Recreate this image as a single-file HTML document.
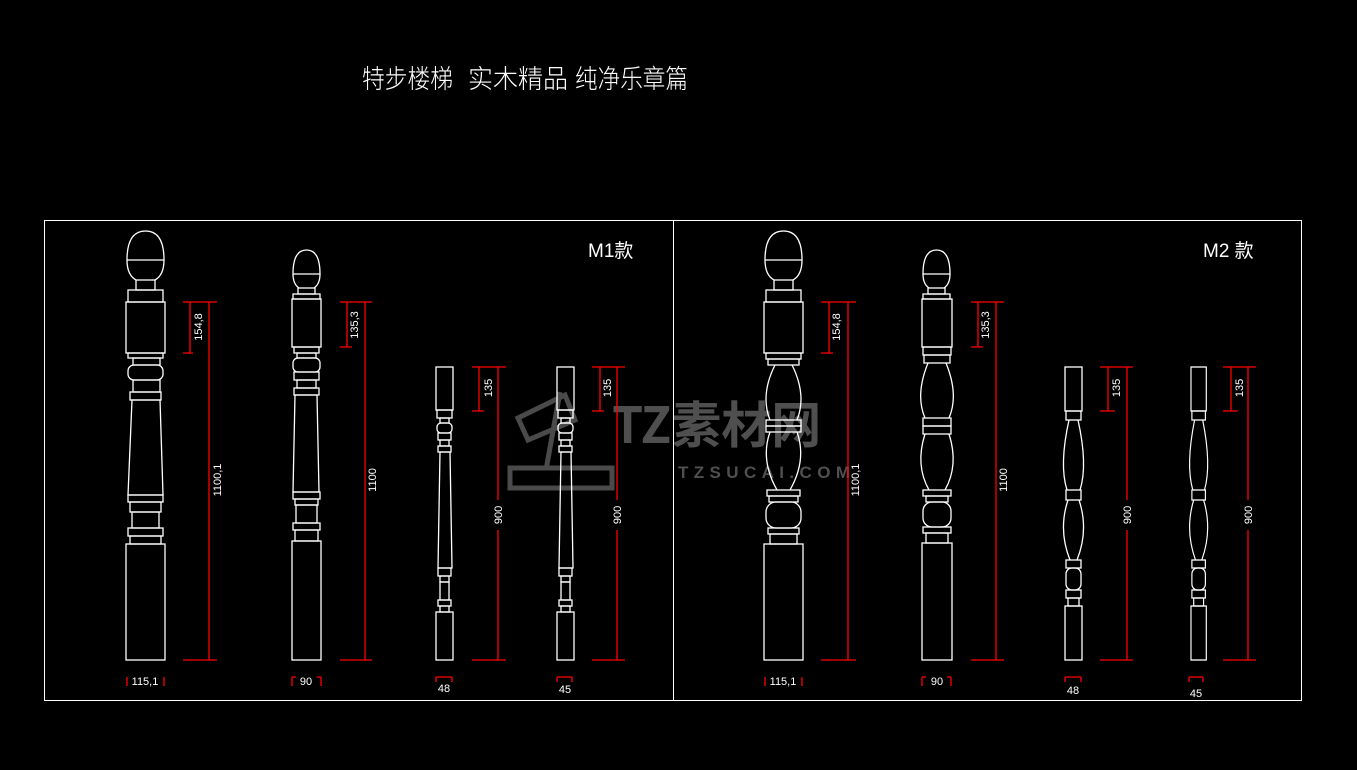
<!DOCTYPE html>
<html><head><meta charset="utf-8"><style>
html,body{margin:0;padding:0;background:#000;width:1357px;height:770px;overflow:hidden}
svg{display:block}
.p{fill:none;stroke:#fff;stroke-width:1.3}
.r{fill:none;stroke:#f00;stroke-width:1.3}
.t{fill:#fff;font-family:"Liberation Sans","Noto Sans CJK SC",sans-serif;font-size:11px}
.ti{fill:#fff;font-family:'Noto Sans CJK SC',sans-serif;font-size:26px;font-weight:300}
</style></head><body>
<svg width="1357" height="770" viewBox="0 0 1357 770">
<rect x="0" y="0" width="1357" height="770" fill="#000"/>
<text class="ti" x="362" y="88" textLength="91" lengthAdjust="spacingAndGlyphs">特步楼梯</text>
<text class="ti" x="468" y="88" textLength="100" lengthAdjust="spacingAndGlyphs">实木精品</text>
<text class="ti" x="575" y="88" textLength="113" lengthAdjust="spacingAndGlyphs">纯净乐章篇</text>

<!-- watermark -->
<g fill="none" stroke="#4a4a4a" stroke-width="5">
<path d="M518,418 L565,395 L575,420 L528,440 Z"/>
<path d="M560,392 L546,470"/>
<path d="M510,468 L612,468 L612,488 L510,488 Z"/>
</g>
<text x="612" y="443" style="fill:#4f4f4f;font-family:'Noto Sans CJK SC',sans-serif;font-size:50px;font-weight:bold">TZ素材网</text>
<text x="678" y="478" textLength="172" lengthAdjust="spacing" style="fill:#4f4f4f;font-family:'Liberation Sans',sans-serif;font-size:17px;font-weight:bold">TZSUCAI.COM</text>

<!-- frame -->
<rect x="44.5" y="220.5" width="1257" height="480" fill="none" stroke="#fff" stroke-width="1"/>
<line x1="673.5" y1="220" x2="673.5" y2="701" stroke="#fff" stroke-width="1"/>
<text x="588" y="257" style="fill:#fff;font-family:'Liberation Sans','Noto Sans CJK SC',sans-serif;font-size:19px">M1款</text>
<text x="1203" y="257" style="fill:#fff;font-family:'Liberation Sans','Noto Sans CJK SC',sans-serif;font-size:19px">M2 款</text>

<!-- M1 post 1 -->
<g class="p">
<path d="M127,260 Q127,231 145.5,231 Q164,231 164,260 Z"/>
<path d="M127,260 Q127,275 136,280 M164,260 Q164,275 155,280"/>
<rect x="136" y="280" width="19" height="10"/>
<rect x="128" y="290" width="35" height="12"/>
<rect x="126" y="302" width="39" height="51"/>
<rect x="128" y="353" width="35" height="5"/>
<rect x="133" y="358" width="27" height="7"/>
<rect x="128" y="365" width="35" height="15" rx="6"/>
<rect x="133" y="380" width="27" height="12"/>
<rect x="130" y="392" width="31" height="8"/>
<path d="M132,400 L160,400 L163,495 L128,495 Z"/>
<rect x="128" y="495" width="35" height="7"/>
<rect x="130" y="502" width="31" height="10"/>
<rect x="132" y="512" width="27" height="16"/>
<rect x="128" y="528" width="35" height="8"/>
<rect x="130" y="536" width="31" height="8"/>
<rect x="126" y="544" width="39" height="116"/>
</g>
<!-- M1 post 2 -->
<g class="p">
<path d="M293,274 Q293,250 306.5,250 Q320,250 320,274 Z"/>
<path d="M293,274 Q293,284 299,288 M320,274 Q320,284 314,288"/>
<rect x="298" y="288" width="17" height="6"/>
<rect x="293" y="294" width="27" height="5"/>
<rect x="292" y="299" width="29" height="48"/>
<rect x="294" y="347" width="25" height="6"/>
<rect x="297" y="353" width="19" height="5"/>
<rect x="293" y="358" width="27" height="14" rx="5"/>
<rect x="294" y="372" width="25" height="8"/>
<rect x="297" y="380" width="19" height="8"/>
<rect x="294" y="388" width="25" height="7"/>
<path d="M295,395 L317,395 L319,492 L293,492 Z"/>
<rect x="293" y="492" width="27" height="7"/>
<rect x="295" y="499" width="23" height="6"/>
<rect x="296" y="505" width="21" height="18"/>
<rect x="293" y="523" width="27" height="7"/>
<rect x="295" y="530" width="23" height="11"/>
<rect x="292" y="541" width="29" height="119"/>
</g>
<!-- M1 post 3 -->
<g class="p" id="b1">
<rect x="436" y="367" width="17" height="43"/>
<rect x="437" y="410" width="15" height="8"/>
<rect x="440" y="418" width="9" height="5"/>
<rect x="437" y="423" width="15" height="10" rx="4"/>
<rect x="438" y="433" width="13" height="7"/>
<rect x="440" y="440" width="9" height="6"/>
<rect x="438" y="446" width="13" height="6"/>
<path d="M440,452 L450,452 L452,568 L438,568 Z"/>
<rect x="438" y="568" width="13" height="8"/>
<rect x="440" y="576" width="9" height="6"/>
<rect x="440" y="582" width="9" height="18"/>
<rect x="438" y="600" width="13" height="6"/>
<rect x="440" y="606" width="9" height="6"/>
<rect x="436" y="612" width="17" height="48"/>
</g>
<use href="#b1" transform="translate(121,0)"/>

<!-- M2 post 5 -->
<g class="p">
<path d="M765,260 Q765,231 783.5,231 Q802,231 802,260 Z"/>
<path d="M765,260 Q765,275 774,280 M802,260 Q802,275 793,280"/>
<rect x="774" y="280" width="19" height="10"/>
<rect x="766" y="290" width="35" height="12"/>
<rect x="764" y="302" width="39" height="51"/>
<rect x="766" y="353" width="35" height="6"/>
<rect x="768" y="359" width="31" height="6"/>
<path d="M775,365 Q760,395 770,420 M792,365 Q807,395 797,420"/>
<rect x="766" y="420" width="35" height="6"/>
<rect x="766" y="426" width="35" height="6"/>
<path d="M770,432 Q760,460 777,490 M797,432 Q807,460 790,490"/>
<rect x="767" y="490" width="33" height="6"/>
<rect x="769" y="496" width="29" height="6"/>
<rect x="766" y="502" width="35" height="26" rx="10"/>
<rect x="768" y="528" width="31" height="6"/>
<rect x="770" y="534" width="27" height="10"/>
<rect x="764" y="544" width="39" height="116"/>
</g>
<!-- M2 post 6 -->
<g class="p">
<path d="M923,274 Q923,250 936.5,250 Q950,250 950,274 Z"/>
<path d="M923,274 Q923,284 929,288 M950,274 Q950,284 944,288"/>
<rect x="928" y="288" width="17" height="6"/>
<rect x="923" y="294" width="27" height="5"/>
<rect x="922" y="299" width="30" height="48"/>
<rect x="923" y="347" width="28" height="8"/>
<rect x="924" y="355" width="26" height="8"/>
<path d="M928,363 Q915,395 925,418 M946,363 Q959,395 949,418"/>
<rect x="923" y="418" width="28" height="8"/>
<rect x="923" y="426" width="28" height="8"/>
<path d="M925,434 Q915,465 929,490 M949,434 Q959,465 945,490"/>
<rect x="923" y="490" width="28" height="6"/>
<rect x="926" y="496" width="22" height="6"/>
<rect x="923" y="502" width="28" height="25" rx="9"/>
<rect x="923" y="527" width="28" height="6"/>
<rect x="926" y="533" width="22" height="10"/>
<rect x="922" y="543" width="30" height="117"/>
</g>
<!-- M2 post 7 -->
<g class="p" id="b2">
<rect x="1065" y="367" width="17" height="44"/>
<rect x="1066" y="411" width="15" height="9"/>
<path d="M1069,420 Q1059,465 1067,490 M1078,420 Q1088,465 1080,490"/>
<rect x="1066" y="490" width="15" height="10"/>
<path d="M1068,500 Q1058,530 1070,560 M1079,500 Q1089,530 1077,560"/>
<rect x="1066" y="560" width="15" height="8"/>
<rect x="1066" y="568" width="15" height="22" rx="6"/>
<rect x="1066" y="590" width="15" height="8"/>
<rect x="1068" y="598" width="11" height="8"/>
<rect x="1065" y="606" width="17" height="54"/>
</g>
<use href="#b2" transform="translate(124,0) translate(1196.5,0) scale(0.9,1) translate(-1196.5,0) translate(-12.4,0)"/>

<!-- dimensions -->
<g class="r">
<path d="M183,302 H217 M190,302 V353 M183,353 H193 M209,302 V660 M183,660 H217 M127,677 V686 M164,677 V686"/>
<path d="M340,302 H372 M347,302 V347 M340,347 H352 M365,302 V660 M340,660 H372 M292,677 V686 M292,677 H296 M321,677 V686 M317,677 H321"/>
<path d="M472,367 H506 M479,367 V411 M472,411 H484 M498,367 V660 M472,660 H506 M436,677 H452 M436,677 V682 M452,677 V682"/>
<path d="M592,367 H625 M600,367 V411 M592,411 H604 M617,367 V660 M592,660 H625 M557,677 H572 M557,677 V682 M572,677 V682"/>
<path d="M821,302 H856 M829,302 V353 M821,353 H833 M848,302 V660 M821,660 H856 M765,677 V686 M802,677 V686"/>
<path d="M971,302 H1004 M978,302 V347 M971,347 H983 M996,302 V660 M971,660 H1004 M922,677 V686 M922,677 H926 M951,677 V686 M947,677 H951"/>
<path d="M1100,367 H1133 M1108,367 V411 M1100,411 H1115 M1127,367 V660 M1100,660 H1133 M1065,677 H1081 M1065,677 V682 M1081,677 V682"/>
<path d="M1223,367 H1256 M1231,367 V411 M1223,411 H1238 M1248,367 V660 M1223,660 H1256 M1189,677 H1203 M1189,677 V682 M1203,677 V682"/>
</g>
<g fill="#000"><rect x="492" y="500" width="12" height="30"/><rect x="611" y="500" width="12" height="30"/><rect x="1121" y="500" width="12" height="30"/><rect x="1242" y="500" width="12" height="30"/></g>
<g class="t" text-anchor="middle">
<text transform="translate(202,327) rotate(-90)">154,8</text>
<text transform="translate(221,480) rotate(-90)">1100,1</text>
<text transform="translate(358,325) rotate(-90)">135,3</text>
<text transform="translate(376,480) rotate(-90)">1100</text>
<text transform="translate(492,388) rotate(-90)">135</text>
<text transform="translate(502,515) rotate(-90)">900</text>
<text transform="translate(611,388) rotate(-90)">135</text>
<text transform="translate(621,515) rotate(-90)">900</text>
<text transform="translate(840,327) rotate(-90)">154,8</text>
<text transform="translate(859,480) rotate(-90)">1100,1</text>
<text transform="translate(989,325) rotate(-90)">135,3</text>
<text transform="translate(1007,480) rotate(-90)">1100</text>
<text transform="translate(1120,388) rotate(-90)">135</text>
<text transform="translate(1131,515) rotate(-90)">900</text>
<text transform="translate(1243,388) rotate(-90)">135</text>
<text transform="translate(1252,515) rotate(-90)">900</text>
<text x="145" y="685">115,1</text>
<text x="306" y="685">90</text>
<text x="444" y="692">48</text>
<text x="565" y="693">45</text>
<text x="783" y="685">115,1</text>
<text x="937" y="685">90</text>
<text x="1073" y="694">48</text>
<text x="1196" y="697">45</text>
</g>
</svg>
</body></html>
